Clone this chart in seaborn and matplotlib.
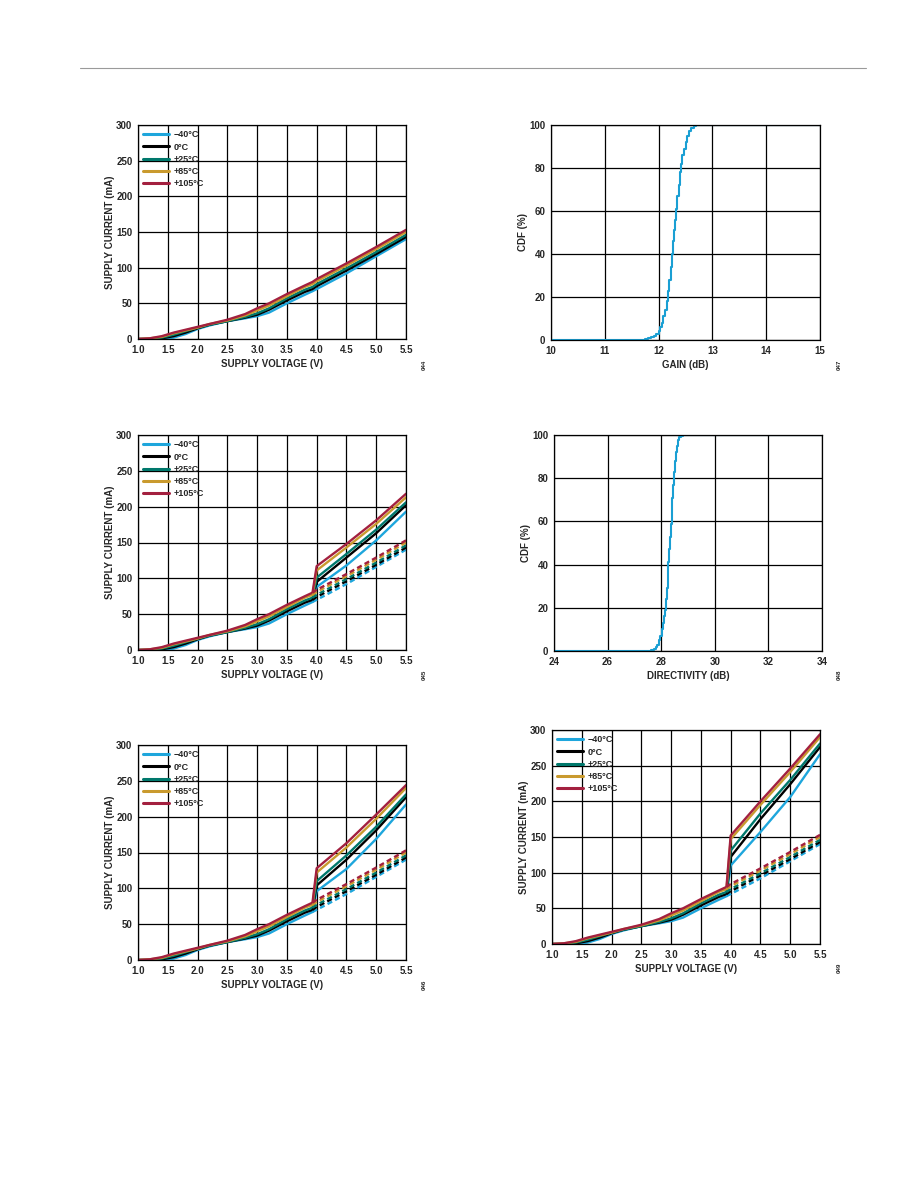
import matplotlib
matplotlib.use('Agg')
import matplotlib.pyplot as plt
import seaborn as sns
import pandas as pd
from matplotlib.lines import Line2D

sns.set_style('white')
plt.rcParams['font.family'] = ['Liberation Sans', 'DejaVu Sans']
plt.rcParams['font.weight'] = 'bold'
plt.rcParams['font.size'] = 7

# temperatures and colours
temps = ['\u221240\u00b0C', '0\u00b0C', '+25\u00b0C', '+85\u00b0C', '+105\u00b0C']
colors = ['#1ea6dc', '#000000', '#00786c', '#c99a2e', '#a3203f']

# supply voltage grid for the base curves (V)
volts = [1.0, 1.2, 1.4, 1.6, 1.8, 2.0, 2.2, 2.5, 2.8, 3.0, 3.2, 3.5, 3.8, 3.93, 4.0, 4.5, 5.0, 5.5]

# base supply current (mA), one list per temperature
cur_m40 = [0, 0, 0, 2, 7, 14, 19, 25, 29, 32, 37, 50, 62, 67, 70, 92, 116, 140]
cur_0 = [0, 0, 1, 4, 9, 15, 20, 25, 30, 34, 41, 54, 66, 70, 74, 96, 119, 143]
cur_25 = [0, 0, 2, 6, 11, 16, 20, 25, 31, 36, 43, 57, 69, 73, 77, 99, 122, 146]
cur_85 = [0, 1, 3, 8, 12, 16, 21, 26, 33, 40, 47, 60, 73, 77, 81, 103, 126, 150]
cur_105 = [0, 1, 4, 9, 13, 17, 21, 27, 35, 43, 50, 63, 75, 80, 84, 106, 129, 153]
base = [cur_m40, cur_0, cur_25, cur_85, cur_105]

# high branch voltages above the step (V)
hi_volts = [4.0, 4.5, 5.0, 5.5]

# second chart high branch (mA)
hi2_m40 = [88, 118, 153, 193]
hi2_0 = [95, 129, 163, 202]
hi2_25 = [101, 134, 168, 206]
hi2_85 = [111, 143, 176, 213]
hi2_105 = [117, 148, 181, 218]
hi2 = [hi2_m40, hi2_0, hi2_25, hi2_85, hi2_105]

# third chart high branch (mA)
hi3_m40 = [96, 127, 169, 217]
hi3_0 = [104, 140, 181, 227]
hi3_25 = [110, 146, 186, 231]
hi3_85 = [122, 157, 197, 240]
hi3_105 = [128, 163, 203, 244]
hi3 = [hi3_m40, hi3_0, hi3_25, hi3_85, hi3_105]

# fourth chart high branch (mA)
hi4_m40 = [110, 157, 206, 266]
hi4_0 = [122, 175, 224, 276]
hi4_25 = [131, 183, 230, 281]
hi4_85 = [147, 195, 241, 290]
hi4_105 = [152, 200, 246, 294]
hi4 = [hi4_m40, hi4_0, hi4_25, hi4_85, hi4_105]

# gain CDF
gain_db = [10.0, 11.74, 11.8, 11.86, 11.92, 11.96, 12.0, 12.03, 12.06, 12.09, 12.12, 12.15,
           12.18, 12.2, 12.23, 12.25, 12.27, 12.29, 12.31, 12.33, 12.35, 12.37, 12.4, 12.42,
           12.44, 12.47, 12.5, 12.53, 12.56, 12.6, 12.65, 12.7, 15.0]
gain_cdf = [0, 0.5, 1, 1.5, 2, 3, 4, 6, 8, 11, 14, 18, 23, 28, 34, 40, 46, 51, 56, 61, 67,
            72, 78, 82, 86, 89, 92, 95, 97, 98.5, 99.5, 100, 100]

# directivity CDF
dir_db = [24.0, 27.63, 27.72, 27.8, 27.86, 27.92, 27.97, 28.02, 28.06, 28.1, 28.14, 28.18,
          28.21, 28.24, 28.27, 28.3, 28.33, 28.36, 28.39, 28.42, 28.45, 28.48, 28.51, 28.55,
          28.59, 28.63, 28.68, 28.75, 28.8, 34.0]
dir_cdf = [0, 0.5, 1, 2, 3, 5, 7, 10, 13, 16, 19, 24, 29, 35, 41, 47, 53, 59, 65, 71, 77,
           83, 88, 92, 95, 97.5, 99, 99.7, 100, 100]

fig_ids = ['044', '047', '045', '048', '046', '049']

fig = plt.figure(figsize=(9.18, 11.88), dpi=100)
fig.add_artist(Line2D([80 / 918, 866 / 918], [1 - 68 / 1188] * 2, color='#9a9a9a', lw=0.8))

W, H = 918, 1188


def make_ax(left, top, right, bottom):
    return fig.add_axes([left / W, 1 - bottom / H, (right - left) / W, (bottom - top) / H])


def style(ax, xlabel, ylabel):
    ax.grid(True, color='black', lw=0.9)
    for s in ax.spines.values():
        s.set_color('black')
        s.set_linewidth(0.9)
    ax.tick_params(length=0, pad=4, labelsize=7)
    for lab in ax.get_xticklabels() + ax.get_yticklabels():
        lab.set_fontweight('bold')
    ax.set_xlabel(xlabel, fontsize=7, fontweight='bold', labelpad=3)
    ax.set_ylabel(ylabel, fontsize=7, fontweight='bold', labelpad=1)


def current_plot(ax, high=None):
    idx = volts.index(3.93)
    for t, c, b in zip(temps, colors, base):
        if high is None:
            x, y = volts, b
        else:
            x = volts[:idx + 1] + hi_volts
            y = b[:idx + 1] + high[temps.index(t)]
        sns.lineplot(x=x, y=y, color=c, lw=1.7, label=t, ax=ax, sort=False, estimator=None)
    if high is not None:
        for c, b in zip(colors, base):
            sns.lineplot(x=volts[idx:], y=b[idx:], color=c, lw=1.7, ax=ax, sort=False,
                         estimator=None, linestyle=(0, (2.2, 1.4)))
    ax.set_xlim(1.0, 5.5)
    ax.set_ylim(0, 300)
    ax.set_xticks([1.0, 1.5, 2.0, 2.5, 3.0, 3.5, 4.0, 4.5, 5.0, 5.5])
    ax.set_yticks(range(0, 301, 50))
    ax.set_xticklabels(['1.0', '1.5', '2.0', '2.5', '3.0', '3.5', '4.0', '4.5', '5.0', '5.5'])
    style(ax, 'SUPPLY VOLTAGE (V)', 'SUPPLY CURRENT (mA)')
    h, l = ax.get_legend_handles_labels()
    leg = ax.legend(h[:5], l[:5], loc='upper left', frameon=False, fontsize=6.5,
                    handlelength=2.8, handletextpad=0.6, labelspacing=0.35,
                    borderaxespad=0.4, borderpad=0.2)
    for txt in leg.get_texts():
        txt.set_fontweight('bold')
    for ln in leg.get_lines():
        ln.set_linewidth(2.2)


def cdf_plot(ax, x, y, xlim, xticks, xlabel):
    sns.lineplot(x=x, y=y, color='#1a9fd3', lw=1.5, drawstyle='steps-post', ax=ax,
                 sort=False, estimator=None)
    ax.set_xlim(*xlim)
    ax.set_ylim(0, 100)
    ax.set_xticks(xticks)
    ax.set_yticks(range(0, 101, 20))
    style(ax, xlabel, 'CDF (%)')


ax1 = make_ax(138, 125, 406, 339)
current_plot(ax1)
ax2 = make_ax(551, 125, 820, 340)
cdf_plot(ax2, gain_db, gain_cdf, (10, 15), range(10, 16), 'GAIN (dB)')
ax3 = make_ax(138, 435, 406, 650)
current_plot(ax3, hi2)
ax4 = make_ax(554, 435, 822, 651)
cdf_plot(ax4, dir_db, dir_cdf, (24, 34), range(24, 35, 2), 'DIRECTIVITY (dB)')
ax5 = make_ax(138, 745, 406, 960)
current_plot(ax5, hi3)
ax6 = make_ax(552, 730, 820, 944)
current_plot(ax6, hi4)

id_pos = [(424, 365), (839, 365), (424, 675), (839, 675), (424, 985), (839, 968)]
for (px, py), fid in zip(id_pos, fig_ids):
    fig.text(px / W, 1 - py / H, fid, rotation=90, fontsize=4.5, fontweight='bold',
             ha='center', va='center')

fig.savefig('out.png', dpi=100)
